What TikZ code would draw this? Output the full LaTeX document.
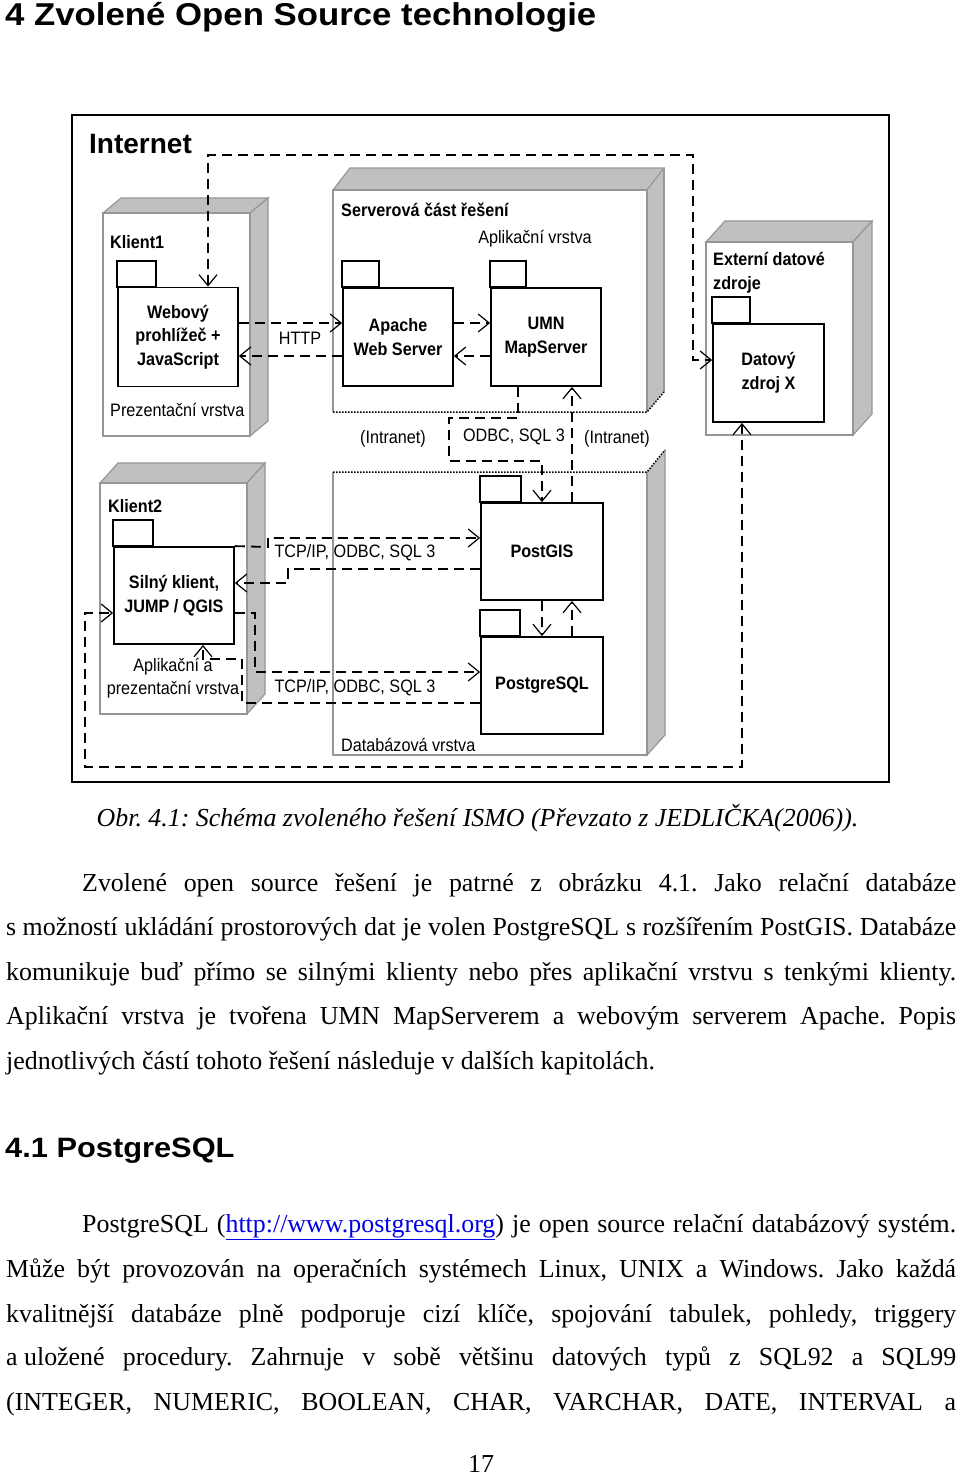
\documentclass[tikz,border=0pt]{standalone}
\usepackage{fontspec}
\setmainfont{Liberation Serif}
\setsansfont{Liberation Sans}
\newfontfamily\diafont{Liberation Sans}[FakeStretch=0.9]
\newfontfamily\headfont{Liberation Sans}[FakeStretch=1.1]
\usetikzlibrary{arrows.meta}

\definecolor{depgray}{RGB}{192,192,192}
\definecolor{deplinegray}{RGB}{150,150,150}
\definecolor{linkblue}{RGB}{0,0,230}

\newcommand\pagetext{\fontsize{25.9}{30}\selectfont}
\frenchspacing

% 3D deployment box: x1, y1, x2, y2 (front face), depth dx, dy
\newcommand\depbox[6]{%
  \fill[white] (#1,#2) rectangle (#3,#4);
  \draw[depline, fill=depgray] (#1,#2) -- ++(#5,-#6) -- ++({#3-#1},0) -- (#3,#2) -- cycle;
  \draw[depline, fill=depgray] (#3,#2) -- ++(#5,-#6) -- ++(0,{#4-#2}) -- (#3,#4) -- cycle;
  \draw[depline] (#1,#2) rectangle (#3,#4);
}
% small tab on top of a component box
\newcommand\comptab[2]{\draw[line width=1.8pt, fill=white] (#1.north west) rectangle ++(#2,-26);}

\begin{document}
\begin{tikzpicture}[x=1pt, y=-1pt,
    depline/.style={draw=deplinegray, line width=1.2pt},
    dotline/.style={line width=1.5pt, dash pattern=on 1.5pt off 1.5pt},
    conn/.style={line width=1.8pt, dash pattern=on 10pt off 6pt,
      >={Straight Barb[length=11pt, width=18pt, line width=1.2pt]}},
    comp/.style={draw, line width=1.8pt, fill=white, align=center, inner sep=0pt,
      font=\diafont\bfseries\fontsize{18}{23.5}\selectfont},
    txt/.style={inner sep=0pt, align=center, font=\diafont\fontsize{18}{23.5}\selectfont},
    txtb/.style={txt, font=\diafont\bfseries\fontsize{18}{23.5}\selectfont},
    line/.style={inner sep=0pt, anchor=base west, font=\pagetext}]

  \fill[white] (0,0) rectangle (960,1475);
  \useasboundingbox (0,0) rectangle (960,1475);

  % heading
  \node[inner sep=0pt, anchor=base west, font=\headfont\bfseries\fontsize{31.6}{36}\selectfont]
    (head) at (5,25) {4 Zvolené Open Source technologie};

  % frame
  \draw[line width=2.2pt] (72,115) rectangle (889,782);

  % deployment nodes
  \depbox{103}{213}{250}{436}{18}{15}
  \depbox{100}{483}{247}{714}{18}{20}
  \depbox{706}{242}{853}{435}{19}{21}

  % server part
  \fill[white] (333,190) rectangle (647,412);
  \fill[depgray] (647,190) -- (664,168) -- (664,392) -- (647,412) -- cycle;
  \draw[depline, fill=depgray] (333,190) -- (350,168) -- (664,168) -- (647,190) -- cycle;
  \draw[depline] (333,412) -- (333,190) -- (647,190) -- (647,412);
  \draw[depline] (664,168) -- (664,392);
  \draw[dotline] (333,412) -- (647,412) -- (664,392);

  % database part
  \fill[white] (333,472) rectangle (647,755);
  \fill[depgray] (647,472) -- (665,450) -- (665,735) -- (647,755) -- cycle;
  \draw[depline] (333,472) -- (333,755) -- (647,755) -- (647,472);
  \draw[depline] (665,450) -- (665,735) -- (647,755);
  \draw[dotline] (333,472) -- (647,472) -- (665,450);

  % components
  \node[comp, minimum width=120, minimum height=99] (webovy) at (178,337) {Webový\\prohlížeč +\\JavaScript};
  \node[comp, minimum width=110, minimum height=98] (apache) at (398,337) {Apache\\Web Server};
  \node[comp, minimum width=110, minimum height=98] (umn) at (546,337) {UMN\\MapServer};
  \node[comp, minimum width=111, minimum height=98] (datovy) at (768.5,373) {Datový\\zdroj X};
  \node[comp, minimum width=120, minimum height=97] (silny) at (174,595.5) {Silný klient,\\JUMP / QGIS};
  \node[comp, minimum width=122, minimum height=97] (postgis) at (542,551.5) {PostGIS};
  \node[comp, minimum width=122, minimum height=97] (postgres) at (542,685.5) {PostgreSQL};
  \comptab{webovy}{39}
  \comptab{apache}{37}
  \comptab{umn}{36}
  \comptab{datovy}{38}
  \comptab{silny}{40}
  \comptab{postgis}{41}
  \comptab{postgres}{40}

  % connectors
  \draw[conn,<->] ([xshift=30]webovy.north) -- (208,155) -- (693,155) |- ([yshift=13]datovy.west);
  \draw[conn,->] ([yshift=14]webovy.east) -- ([yshift=14]apache.west);
  \draw[conn,->] ([yshift=-19]apache.west) -- ([yshift=-19]webovy.east);
  \draw[conn,->] ([yshift=14]apache.east) -- ([yshift=14]umn.west);
  \draw[conn,->] ([yshift=-19]umn.west) -- ([yshift=-19]apache.east);
  \draw[conn,->] ([xshift=-28]umn.south) -- ++(0,31) -| (449,461) -| (postgis.north);
  \draw[conn,->] ([xshift=30]postgis.north) -- ([xshift=26]umn.south);
  \draw[conn,->] (postgis.south) -- (postgres.north);
  \draw[conn,->] ([xshift=30]postgres.north) -- ([xshift=30]postgis.south);
  \draw[conn,->] (silny.north east) -- (268,547) |- ([yshift=13.5]postgis.west);
  \draw[conn,->] ([yshift=-17.5]postgis.west) -| (288,583) -- ([yshift=12.5]silny.east);
  \draw[conn,->] ([yshift=-17.5]silny.east) -| (255,672) -- ([yshift=13.5]postgres.west);
  \draw[conn,->] ([yshift=-17.5]postgres.west) -| (242,659) -| ([xshift=29]silny.south);
  \draw[conn,<->] ([xshift=-26.5]datovy.south) -- (742,767) -| (85,613) -- ([yshift=-17.5]silny.west);

  % labels
  \node[inner sep=0pt, anchor=base west, font=\sffamily\bfseries\fontsize{28}{34}\selectfont] (internet) at (89,153) {Internet};
  \node[txtb, anchor=base west] (klient1) at (110,248) {Klient1};
  \node[txt, anchor=base west] (prez) at (110,416) {Prezentační vrstva};
  \node[txt] (http) at (300,338) {HTTP};
  \node[txtb, anchor=base west] (server) at (341,216) {Serverová část řešení};
  \node[txt, anchor=base] (aplik) at (535,243) {Aplikační vrstva};
  \node[txtb, anchor=west, align=left] (externi) at (713,273) {Externí datové\\zdroje};
  \node[txt] (intra1) at (393,439) {(Intranet)};
  \node[txt] (odbc) at (514,437) {ODBC, SQL 3};
  \node[txt] (intra2) at (617,439) {(Intranet)};
  \node[txtb, anchor=base west] (klient2) at (108,512) {Klient2};
  \node[txt] (tcp1) at (355,553) {TCP/IP, ODBC, SQL 3};
  \node[txt] (tcp2) at (355,688) {TCP/IP, ODBC, SQL 3};
  \node[txt] (aplprez) at (173,678) {Aplikační a\\prezentační vrstva};
  \node[txt, anchor=base west] (dbvrstva) at (341,751) {Databázová vrstva};

  % caption and text
  \node[inner sep=0pt, anchor=base, font=\pagetext\itshape] (caption) at (477.5,826)
    {Obr. 4.1: Schéma zvoleného řešení ISMO (Převzato z JEDLIČKA(2006)).};
  \node[line] (p1a) at (82,891) {\makebox[874pt][s]{Zvolené open source řešení je patrné z obrázku 4.1. Jako relační databáze}};
  \node[line] (p1b) at (6,935.5) {\makebox[950pt][s]{s\kern.25em možností ukládání prostorových dat je volen PostgreSQL s\kern.25em rozšířením PostGIS. Databáze}};
  \node[line] (p1c) at (6,980) {\makebox[950pt][s]{komunikuje buď přímo se silnými klienty nebo přes aplikační vrstvu s tenkými klienty.}};
  \node[line] (p1d) at (6,1024.5) {\makebox[950pt][s]{Aplikační vrstva je tvořena UMN MapServerem a webovým serverem Apache. Popis}};
  \node[line] (p1e) at (6,1069) {jednotlivých částí tohoto řešení následuje v dalších kapitolách.};

  \node[inner sep=0pt, anchor=base west, font=\headfont\bfseries\fontsize{28}{32}\selectfont]
    (head2) at (5,1157) {4.1 PostgreSQL};

  \node[line] (p2a) at (82,1232) {\makebox[874pt][s]{PostgreSQL (\textcolor{linkblue}{\underline{http://www.postgresql.org}}) je open source relační databázový systém.}};
  \node[line] (p2b) at (6,1277) {\makebox[950pt][s]{Může být provozován na operačních systémech Linux, UNIX a Windows. Jako každá}};
  \node[line] (p2c) at (6,1322) {\makebox[950pt][s]{kvalitnější databáze plně podporuje cizí klíče, spojování tabulek, pohledy, triggery}};
  \node[line] (p2d) at (6,1365.5) {\makebox[950pt][s]{a\kern.25em uložené procedury. Zahrnuje v sobě většinu datových typů z SQL92 a SQL99}};
  \node[line] (p2e) at (6,1410) {\makebox[950pt][s]{(INTEGER, NUMERIC, BOOLEAN, CHAR, VARCHAR, DATE, INTERVAL a}};

  \node[inner sep=0pt, anchor=base, font=\pagetext] (pagenum) at (481,1472) {17};
\end{tikzpicture}
\end{document}
